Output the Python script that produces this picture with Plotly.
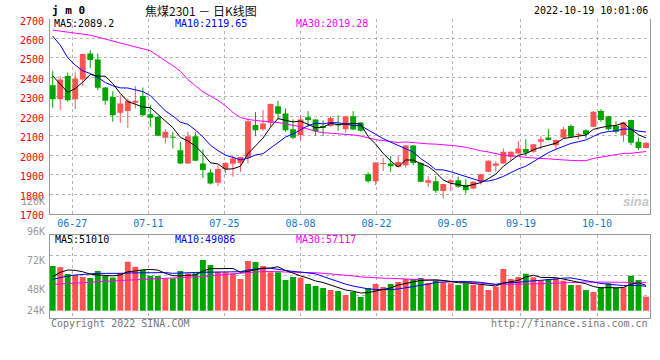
import plotly.graph_objects as go

# ---------------- data ----------------
dates = ["06-22", "06-23", "06-24", "06-27", "06-28", "06-29", "06-30",
         "07-01", "07-04", "07-05", "07-06", "07-07", "07-08", "07-11", "07-12", "07-13", "07-14", "07-15",
         "07-18", "07-19", "07-20", "07-21", "07-22", "07-25", "07-26", "07-27", "07-28", "07-29",
         "08-01", "08-02", "08-03", "08-04", "08-05", "08-08", "08-09", "08-10", "08-11", "08-12",
         "08-15", "08-16", "08-17", "08-18", "08-19", "08-22", "08-23", "08-24", "08-25", "08-26",
         "08-29", "08-30", "08-31", "09-01", "09-02", "09-05", "09-06", "09-07", "09-08", "09-09",
         "09-13", "09-14", "09-15", "09-16", "09-19", "09-20", "09-21", "09-22", "09-23",
         "09-26", "09-27", "09-28", "09-29", "09-30", "10-10", "10-11", "10-12", "10-13", "10-14",
         "10-17", "10-18", "10-19"]

open_ = [2360, 2288, 2407, 2288, 2389, 2523, 2492, 2348, 2300, 2218,
         2227, 2270, 2304, 2211, 2198, 2090, 2093, 2026, 1958, 2098,
         1958, 1912, 1859, 1929, 1956, 1961, 1987, 2155, 2134, 2167,
         2252, 2215, 2134, 2104, 2196, 2184, 2150, 2150, 2158, 2134,
         2201, 2169, 1903, 1867, 1955, 1958, 1941, 1949, 2050, 1961,
         1859, 1867, 1816, 1860, 1872, 1847, 1830, 1864, 1915, 1946,
         1958, 1992, 2009, 2032, 2018, 2069, 2092, 2052, 2090, 2150,
         2104, 2129, 2146, 2227, 2201, 2151, 2104, 2181, 2069, 2038]
high = [2432, 2407, 2425, 2425, 2522, 2540, 2523, 2350, 2329, 2309,
        2292, 2355, 2348, 2258, 2201, 2134, 2121, 2069, 2121, 2121,
        2030, 1929, 1949, 1966, 1997, 1993, 2189, 2222, 2232, 2266,
        2280, 2240, 2184, 2206, 2227, 2186, 2180, 2201, 2206, 2203,
        2227, 2171, 1913, 1965, 1987, 1996, 1999, 2052, 2052, 1965,
        1893, 1893, 1854, 1878, 1890, 1878, 1867, 1905, 1975, 1970,
        2035, 2020, 2073, 2083, 2059, 2098, 2133, 2081, 2146, 2158,
        2116, 2133, 2227, 2237, 2203, 2175, 2172, 2183, 2092, 2066]
low = [2244, 2232, 2275, 2237, 2355, 2449, 2335, 2259, 2172, 2167,
       2141, 2240, 2201, 2146, 2098, 2061, 2035, 1955, 1956, 1970,
       1884, 1850, 1843, 1907, 1890, 1915, 1958, 2098, 2126, 2146,
       2184, 2121, 2083, 2078, 2146, 2100, 2100, 2146, 2126, 2116,
       2129, 2122, 1859, 1847, 1919, 1915, 1940, 1937, 1949, 1862,
       1838, 1807, 1778, 1816, 1833, 1804, 1825, 1850, 1913, 1915,
       1956, 1975, 2007, 1997, 2013, 2030, 2076, 2032, 2086, 2093,
       2083, 2086, 2144, 2172, 2126, 2112, 2069, 2052, 2026, 2035]
close = [2288, 2389, 2283, 2395, 2520, 2489, 2347, 2280, 2206, 2266,
         2280, 2280, 2206, 2193, 2100, 2121, 2090, 1958, 2098, 1972,
         1924, 1855, 1929, 1961, 1984, 1991, 2175, 2129, 2163, 2263,
         2213, 2129, 2090, 2184, 2181, 2124, 2140, 2191, 2153, 2201,
         2133, 2126, 1867, 1963, 1958, 1944, 1965, 2050, 1961, 1864,
         1872, 1818, 1852, 1872, 1838, 1821, 1864, 1903, 1972, 1958,
         2018, 2018, 2035, 2013, 2057, 2083, 2078, 2078, 2134, 2095,
         2107, 2107, 2223, 2181, 2134, 2121, 2170, 2064, 2038, 2064]

ma5 = [2408, 2364, 2323, 2343, 2375.0, 2415.2, 2406.8, 2406.2, 2368.4, 2317.6,
       2275.8, 2262.4, 2247.6, 2245.0, 2211.8, 2180.0, 2142.0, 2092.4, 2073.4, 2047.8,
       2008.4, 1961.4, 1955.6, 1928.2, 1930.6, 1944.0, 2008.0, 2048.0, 2088.4, 2144.2,
       2188.6, 2179.4, 2171.6, 2175.8, 2159.4, 2141.6, 2143.8, 2164.0, 2157.8, 2161.8,
       2163.6, 2160.8, 2096.0, 2058.0, 2009.4, 1971.6, 1939.4, 1976.0, 1975.6, 1956.8,
       1942.4, 1913.0, 1873.4, 1855.6, 1850.4, 1840.2, 1849.4, 1859.6, 1879.6, 1903.6,
       1943.0, 1973.8, 2000.2, 2008.4, 2028.2, 2041.2, 2053.2, 2061.8, 2086.0, 2093.6,
       2098.4, 2104.2, 2133.2, 2142.6, 2150.4, 2153.2, 2165.8, 2134.0, 2105.4, 2089.2]
ma10 = [2612, 2566, 2501, 2463, 2434, 2420, 2400, 2374, 2357, 2346.3,
        2345.5, 2334.6, 2326.9, 2306.7, 2264.7, 2227.9, 2202.2, 2170.0, 2159.2, 2129.8,
        2094.2, 2051.7, 2024.0, 2000.8, 1989.2, 1976.2, 1984.7, 2001.8, 2008.3, 2037.4,
        2066.3, 2093.7, 2109.8, 2132.1, 2151.8, 2165.1, 2161.6, 2167.8, 2166.8, 2160.6,
        2152.6, 2152.3, 2130.0, 2107.9, 2085.6, 2067.6, 2050.1, 2036.0, 2016.8, 1983.1,
        1957.0, 1926.2, 1924.7, 1915.6, 1903.6, 1891.3, 1881.2, 1866.5, 1867.6, 1877.0,
        1891.6, 1911.6, 1929.9, 1944.0, 1965.9, 1992.1, 2013.5, 2031.0, 2047.2, 2060.9,
        2069.8, 2078.7, 2097.5, 2114.3, 2122.0, 2125.8, 2135.0, 2133.6, 2124.0, 2119.65]
ma30 = [2643, 2638, 2633, 2627, 2624, 2617, 2607, 2597, 2585, 2576,
        2564, 2557, 2545, 2537, 2511, 2487, 2460, 2432, 2389, 2357,
        2326, 2304, 2283, 2254, 2220, 2194, 2184, 2179, 2174, 2171.2,
        2168.7, 2160.0, 2153.6, 2146.5, 2135.2, 2123.1, 2116.2, 2113.2, 2111.4, 2109.3,
        2104.4, 2099.2, 2087.9, 2080.3, 2075.5, 2069.6, 2065.5, 2068.5, 2064.0, 2060.4,
        2058.6, 2057.4, 2054.8, 2051.9, 2047.0, 2041.3, 2031.0, 2023.4, 2017.1, 2006.9,
        2000.4, 1996.7, 1994.9, 1989.2, 1985.0, 1983.7, 1981.6, 1977.8, 1977.2, 1973.7,
        1972.8, 1972.2, 1984.0, 1991.3, 1997.2, 2003.1, 2009.9, 2010.4, 2012.9, 2019.28]

volume = [90300, 88000, 74100, 72500, 68100, 66100, 80200, 70800, 67000, 76400,
          98700, 88600, 82200, 70700, 70100, 65400, 65400, 80200, 75500, 75500,
          102400, 92300, 78800, 77600, 75500, 64000, 100400, 98400, 90300, 77600,
          77600, 62000, 68100, 66700, 53900, 49900, 45900, 41800, 39800, 31700,
          37800, 27700, 45900, 53900, 47900, 53900, 58000, 64000, 64000, 66100,
          56000, 62000, 57400, 55300, 51900, 55300, 51900, 51900, 41800, 48500,
          84200, 64000, 68100, 74700, 67500, 62000, 64000, 65400, 60600, 51900,
          51900, 41800, 37800, 47300, 55300, 47300, 47300, 70700, 62000, 28300]
vol_ma5 = [68700, 77400, 82200, 81500, 78600, 73800, 72200, 71500, 70400, 72100,
           78600, 80300, 82600, 83300, 82100, 75400, 70800, 70400, 71300, 72400,
           79800, 85200, 84900, 85300, 85300, 77600, 79300, 83200, 85700, 86100,
           88900, 81200, 75100, 70400, 65700, 60100, 56900, 51600, 46300, 41800,
           39400, 35800, 36600, 39400, 42600, 45900, 51900, 55500, 57600, 61200,
           61600, 62400, 61100, 59400, 56500, 56400, 54400, 53300, 50600, 49900,
           55700, 58100, 61300, 67900, 71700, 67300, 67300, 66700, 63900, 60800,
           58800, 54300, 48800, 46100, 46800, 45900, 47000, 53600, 56500, 51010]
vol_ma10 = [63300, 67300, 70000, 72000, 73400, 74700, 75400, 75400, 74700, 75400,
            76200, 76300, 77100, 76900, 77100, 77000, 75500, 76500, 77300, 77200,
            77600, 78000, 77600, 78300, 78900, 78700, 82200, 84000, 85500, 85700,
            83300, 80200, 79200, 78100, 75900, 74500, 69000, 63400, 58300, 53700,
            49800, 46300, 44100, 42800, 42200, 42600, 43800, 46100, 48500, 51900,
            53700, 57200, 58300, 58500, 58900, 59000, 58400, 57200, 55000, 53200,
            56000, 56200, 57300, 59200, 60800, 61500, 62700, 64000, 65900, 66200,
            63000, 60800, 57800, 55000, 53800, 52300, 50700, 51200, 51300, 49086]
vol_ma30 = [53000, 54000, 55000, 56000, 57000, 58000, 59000, 60000, 60600, 61200,
            61800, 62400, 63000, 63600, 64300, 65000, 65700, 66400, 67200, 68000,
            69000, 70500, 72000, 73500, 75000, 76000, 77200, 78200, 79000, 79400,
            79000, 78100, 77900, 77800, 77300, 76700, 75600, 74600, 73700, 72200,
            70200, 68200, 67000, 66400, 65700, 65300, 65000, 64500, 64100, 63800,
            62300, 61200, 60500, 59800, 59000, 58700, 57100, 55500, 53900, 53000,
            53200, 53200, 53200, 53500, 54000, 54400, 55000, 55800, 56400, 57100,
            57600, 58100, 57800, 57600, 57800, 57600, 57200, 57500, 57400, 57117]

price_ticks = [1700, 1800, 1900, 2000, 2100, 2200, 2300, 2400, 2500, 2600, 2700]
date_ticks = ["06-27", "07-11", "07-25", "08-08", "08-22", "09-05", "09-19", "10-10"]
vol_labels = ["120K", "96K", "72K", "48K", "24K"]

symbol = "j m 0"
title_cn = "焦煤2301 － 日K线图"
timestamp = "2022-10-19 10:01:06"

# ---------------- layout geometry ----------------
W, H = 660, 360
ML, MR, MT, MB = 50, 10, 19, 42
PW, PH = W - ML - MR, H - MT - MB


def fx(xpx):
    return (xpx - ML) / PW


def fy(ypx):
    return (H - MB - ypx) / PH


MONO = "DejaVu Sans Mono"
UP = "#FF5252"
DN = "#00A400"
GRID = "#B4B4B4"
AXIS = "#9A9A9A"

n = len(dates)
xs = list(range(n))
is_up = [c >= o for o, c in zip(open_, close)]
colors = [UP if u else DN for u in is_up]

fig = go.Figure()

# wicks
for want, col in ((True, UP), (False, DN)):
    wx, wy = [], []
    for i in xs:
        if is_up[i] == want:
            wx += [i, i, None]
            wy += [low[i], high[i], None]
    fig.add_trace(go.Scatter(x=wx, y=wy, mode="lines", line=dict(color=col, width=1),
                             xaxis="x", yaxis="y", hoverinfo="skip"))

# bodies
body_base = [min(o, c) for o, c in zip(open_, close)]
body_h = [max(abs(c - o), 5) for o, c in zip(open_, close)]
fig.add_trace(go.Bar(x=xs, y=body_h, base=body_base, width=0.78,
                     marker=dict(color=colors, line=dict(width=0)),
                     xaxis="x", yaxis="y", hoverinfo="skip"))

for vals, col in ((ma30, "#FF00FF"), (ma10, "#0000FF"), (ma5, "#000000")):
    fig.add_trace(go.Scatter(x=xs, y=vals, mode="lines", line=dict(color=col, width=1),
                             xaxis="x", yaxis="y", hoverinfo="skip"))

# volume
fig.add_trace(go.Bar(x=xs, y=volume, width=0.78, marker=dict(color=colors, line=dict(width=0)),
                     xaxis="x2", yaxis="y2", hoverinfo="skip"))
for vals, col in ((vol_ma30, "#FF00FF"), (vol_ma10, "#0000FF"), (vol_ma5, "#000000")):
    fig.add_trace(go.Scatter(x=xs, y=vals, mode="lines", line=dict(color=col, width=1),
                             xaxis="x2", yaxis="y2", hoverinfo="skip"))

# x tick positions (Sina grid spacing is slightly wider than candle spacing)
tick_pos = [dates.index(d) * 1.0126 - 0.43 for d in date_ticks]
xrange_ = [-0.36, n - 1 + 0.53]

main_bottom = fy(213.7)
vol_top = fy(234.7)
px_per_vol = 2020.0
vol_range = [-(318 - 310.7) * px_per_vol, (310.7 - 234.7) * px_per_vol]
vol_grid = [(310.7 - y) * px_per_vol for y in (255.3, 275.3, 295.3)]

common = dict(automargin=False, zeroline=False, ticks="", showgrid=True, gridcolor=GRID,
              griddash="dot", gridwidth=1, showline=True, linecolor=AXIS, linewidth=1)

fig.update_layout(
    width=W, height=H,
    margin=dict(l=ML, r=MR, t=MT, b=MB, pad=0, autoexpand=False),
    paper_bgcolor="white", plot_bgcolor="white",
    showlegend=False, barmode="overlay", hovermode=False,
    xaxis=dict(domain=[0, 1], anchor="y", range=xrange_, tickmode="array",
               tickvals=tick_pos, ticktext=date_ticks,
               tickfont=dict(family=MONO, size=10, color="#1177CC"),
               ticklabelstandoff=0, **common),
    yaxis=dict(domain=[main_bottom, 1], anchor="x", range=[1700, 2700], tickmode="array",
               tickvals=price_ticks, ticktext=[str(v) for v in price_ticks],
               tickfont=dict(family=MONO, size=10, color="#EE0000"),
               mirror=True, ticklabelstandoff=3, ticklabelshift=2, **common),
    xaxis2=dict(domain=[0, 1], anchor="y2", matches="x", range=xrange_, tickmode="array",
                tickvals=tick_pos, showticklabels=False, mirror=True, **common),
    yaxis2=dict(domain=[0, vol_top], anchor="x2", range=vol_range, tickmode="array",
                tickvals=vol_grid, showticklabels=False, mirror=True, **common),
)


def ann(text, xpx, ypx, color, size=10, xanchor="left", family=MONO):
    fig.add_annotation(text=text, x=fx(xpx), y=fy(ypx), xref="paper", yref="paper",
                       xanchor=xanchor, yanchor="middle", showarrow=False,
                       font=dict(family=family, size=size, color=color))


# header
ann("<b>" + symbol + "</b>", 50, 10, "#000000", size=11)
ann(title_cn, 201, 10, "#111111", size=12, xanchor="center", family="Noto Sans CJK SC")
ann(timestamp, 650, 10, "#000000", xanchor="right")

# price legend
ann(f"MA5:{ma5[-1]}", 52, 24, "#000000")
ann(f"MA10:{ma10[-1]}", 173, 24, "#0000FF")
ann(f"MA30:{ma30[-1]}", 294, 24, "#FF00FF")

# volume legend
ann(f"MA5:{vol_ma5[-1]}", 53, 239, "#000000")
ann(f"MA10:{vol_ma10[-1]}", 173, 239, "#0000FF")
ann(f"MA30:{vol_ma30[-1]}", 294, 239, "#FF00FF")

# volume axis labels (Sina places them at fixed slots)
for lab, ypx in zip(vol_labels, (201, 231.7, 260.7, 289.3, 310.7)):
    ann(lab, 47, ypx, "#999999", xanchor="right")

# footer
ann("Copyright 2022 SINA.COM", 49, 323, "#777777")
ann("http://finance.sina.com.cn", 650, 323, "#777777", xanchor="right")

# watermark
fig.add_annotation(text="<b><i>sina</i></b>", x=fx(636), y=fy(201), xref="paper", yref="paper",
                   xanchor="center", yanchor="middle", showarrow=False,
                   font=dict(family="Liberation Sans", size=13, color="#C8C8C8"))

fig.write_html("out.html", config={"displayModeBar": False, "staticPlot": True})

# remove the browser's default 8px page margin so the figure sits at (0, 0)
with open("out.html", "r", encoding="utf-8") as fh:
    page = fh.read()
page = page.replace("<head>", "<head><style>html,body{margin:0;padding:0;overflow:hidden;}</style>", 1)
with open("out.html", "w", encoding="utf-8") as fh:
    fh.write(page)
